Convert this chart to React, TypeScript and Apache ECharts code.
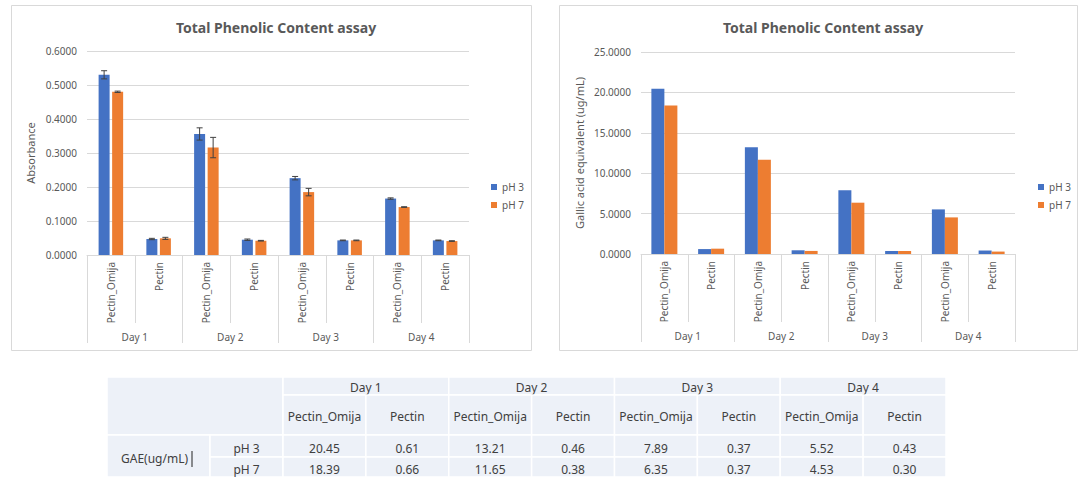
import React, { useEffect, useRef } from 'react';
import * as echarts from 'echarts';

const categories = ['Pectin_Omija', 'Pectin', 'Pectin_Omija', 'Pectin', 'Pectin_Omija', 'Pectin', 'Pectin_Omija', 'Pectin'];
const days = ['Day 1', 'Day 2', 'Day 3', 'Day 4'];
const seriesNames = ['pH 3', 'pH 7'];
const chartTitle = 'Total Phenolic Content assay';

// Absorbance (left chart)
const absPH3 = [0.530, 0.047, 0.356, 0.045, 0.226, 0.043, 0.166, 0.043];
const absPH7 = [0.480, 0.049, 0.316, 0.042, 0.185, 0.043, 0.141, 0.041];
const absErrPH3 = [0.012, 0.002, 0.018, 0.002, 0.005, 0.001, 0.002, 0.001];
const absErrPH7 = [0.002, 0.003, 0.030, 0.001, 0.011, 0.001, 0.001, 0.001];

// Gallic acid equivalent (right chart + table)
const gaePH3 = [20.45, 0.61, 13.21, 0.46, 7.89, 0.37, 5.52, 0.43];
const gaePH7 = [18.39, 0.66, 11.65, 0.38, 6.35, 0.37, 4.53, 0.30];

const tableRowHeader = 'GAE(ug/mL)';

const BLUE = '#4472C4';
const ORANGE = '#ED7D31';
const AXIS_GRAY = '#d9d9d9';
const TEXT_GRAY = '#595959';
const FONT = "'Noto Sans', 'Open Sans', sans-serif";

function errorSeries(name: string, values: number[], errs: number[], offset: number) {
  return {
    type: 'custom',
    name: name + ' err',
    xAxisIndex: 0,
    yAxisIndex: 0,
    z: 10,
    silent: true,
    encode: { x: 0, y: 1 },
    data: values.map((v, i) => [i, v, errs[i]]),
    renderItem: (params: any, api: any) => {
      const i = api.value(0);
      const v = api.value(1);
      const e = api.value(2);
      const top = api.coord([i, v + e]);
      const bot = api.coord([i, v - e]);
      const x = top[0] + offset;
      const cap = 3;
      const style = { stroke: '#404040', lineWidth: 1 };
      return {
        type: 'group',
        children: [
          { type: 'line', shape: { x1: x, y1: top[1], x2: x, y2: bot[1] }, style },
          { type: 'line', shape: { x1: x - cap, y1: top[1], x2: x + cap, y2: top[1] }, style },
          { type: 'line', shape: { x1: x - cap, y1: bot[1], x2: x + cap, y2: bot[1] }, style },
        ],
      };
    },
  };
}

function buildTable() {
  const els: any[] = [];
  const fill = '#EDF1F8';
  const stroke = '#ffffff';
  const tx = 107;
  const c1 = 210;
  const c2 = 283;
  const right = 946;
  const colW = (right - c2) / 8;
  const r0 = 377, r1 = 395, r2 = 435, r3 = 457, r4 = 477;
  const textColor = '#404040';
  const fs = 12;
  const cell = (x: number, y: number, w: number, h: number) =>
    els.push({ type: 'rect', shape: { x, y, width: w, height: h }, style: { fill, stroke, lineWidth: 1.5 }, silent: true });
  const text = (t: string, x: number, y: number) =>
    els.push({ type: 'text', x, y, style: { text: t, fill: textColor, font: `${fs}px ${FONT}`, align: 'center', verticalAlign: 'middle' }, silent: true });

  cell(tx, r0, c2 - tx, r2 - r0);
  days.forEach((d, k) => {
    cell(c2 + colW * 2 * k, r0, colW * 2, r1 - r0);
    text(d, c2 + colW * 2 * k + colW, (r0 + r1) / 2 + 1);
  });
  categories.forEach((c, i) => {
    cell(c2 + colW * i, r1, colW, r2 - r1);
    text(c, c2 + colW * i + colW / 2, (r1 + r2) / 2 + 1);
  });
  cell(tx, r2, c1 - tx, r4 - r2);
  text(tableRowHeader, (tx + c1) / 2 - 4, (r2 + r4) / 2 + 2);
  els.push({ type: 'line', shape: { x1: 192, y1: 451, x2: 192, y2: 467 }, style: { stroke: '#222', lineWidth: 1 }, silent: true });
  [gaePH3, gaePH7].forEach((row, ri) => {
    const y0 = ri === 0 ? r2 : r3;
    const y1 = ri === 0 ? r3 : r4;
    cell(c1, y0, c2 - c1, y1 - y0);
    text(seriesNames[ri], (c1 + c2) / 2, (y0 + y1) / 2 + 2);
    row.forEach((v, i) => {
      cell(c2 + colW * i, y0, colW, y1 - y0);
      text(v.toFixed(2), c2 + colW * i + colW / 2, (y0 + y1) / 2 + 2);
    });
  });
  return els;
}

function xAxesFor(gridIndex: number) {
  return [
    {
      gridIndex,
      type: 'category',
      data: categories,
      position: 'bottom',
      axisLine: { show: true, lineStyle: { color: AXIS_GRAY } },
      axisTick: { show: true, interval: 0, length: 68, lineStyle: { color: AXIS_GRAY } },
      axisLabel: { interval: 0, rotate: 90, margin: 7, fontSize: 10, color: TEXT_GRAY, fontFamily: FONT },
    },
    {
      gridIndex,
      type: 'category',
      data: days,
      position: 'bottom',
      axisLine: { show: false },
      axisTick: { show: true, interval: 0, length: 88, lineStyle: { color: AXIS_GRAY } },
      axisLabel: { interval: 0, margin: 77, fontSize: 10, color: TEXT_GRAY, fontFamily: FONT },
    },
  ];
}

export default function App() {
  const ref = useRef<HTMLDivElement>(null);
  useEffect(() => {
    if (!ref.current) return;
    const chart = echarts.init(ref.current, null, { renderer: 'svg' });
    const leftBarW = 11;
    const leftGap = 0.23;
    const leftOffset = (leftBarW * (1 + leftGap)) / 2;
    const option: any = {
      animation: false,
      backgroundColor: '#ffffff',
      textStyle: { fontFamily: FONT },
      title: [
        { text: chartTitle, left: 271, top: 15, textAlign: 'center', textStyle: { fontSize: 14, fontWeight: 'bold', color: TEXT_GRAY, fontFamily: FONT } },
        { text: chartTitle, left: 818, top: 15, textAlign: 'center', textStyle: { fontSize: 14, fontWeight: 'bold', color: TEXT_GRAY, fontFamily: FONT } },
      ],
      legend: [
        {
          data: seriesNames, orient: 'vertical', left: 486, top: 177, itemWidth: 6, itemHeight: 6, itemGap: 8, icon: 'rect',
          textStyle: { fontSize: 10, color: TEXT_GRAY, fontFamily: FONT }, selectedMode: false,
        },
        {
          data: seriesNames, orient: 'vertical', left: 1033, top: 177, itemWidth: 6, itemHeight: 6, itemGap: 8, icon: 'rect',
          textStyle: { fontSize: 10, color: TEXT_GRAY, fontFamily: FONT }, selectedMode: false,
        },
      ],
      grid: [
        { left: 87, top: 51, width: 382, height: 204, containLabel: false },
        { left: 641, top: 52, width: 374, height: 202, containLabel: false },
      ],
      xAxis: [...xAxesFor(0), ...xAxesFor(1)],
      yAxis: [
        {
          gridIndex: 0, type: 'value', min: 0, max: 0.6, interval: 0.1,
          axisLine: { show: false }, axisTick: { show: false },
          axisLabel: { formatter: (v: number) => v.toFixed(4), fontSize: 10, color: TEXT_GRAY, margin: 10, fontFamily: FONT },
          splitLine: { lineStyle: { color: AXIS_GRAY } },
          name: 'Absorbance', nameLocation: 'middle', nameGap: 51, nameRotate: 90,
          nameTextStyle: { fontSize: 11, color: TEXT_GRAY, fontFamily: FONT },
        },
        {
          gridIndex: 1, type: 'value', min: 0, max: 25, interval: 5,
          axisLine: { show: false }, axisTick: { show: false },
          axisLabel: { formatter: (v: number) => v.toFixed(4), fontSize: 10, color: TEXT_GRAY, margin: 10, fontFamily: FONT },
          splitLine: { lineStyle: { color: AXIS_GRAY } },
          name: 'Gallic acid equivalent (ug/mL)', nameLocation: 'middle', nameGap: 56, nameRotate: 90,
          nameTextStyle: { fontSize: 11, color: TEXT_GRAY, fontFamily: FONT },
        },
      ],
      series: [
        { type: 'bar', name: seriesNames[0], xAxisIndex: 0, yAxisIndex: 0, data: absPH3, barWidth: leftBarW, barGap: '23%', itemStyle: { color: BLUE } },
        { type: 'bar', name: seriesNames[1], xAxisIndex: 0, yAxisIndex: 0, data: absPH7, barWidth: leftBarW, barGap: '23%', itemStyle: { color: ORANGE } },
        errorSeries(seriesNames[0], absPH3, absErrPH3, -leftOffset),
        errorSeries(seriesNames[1], absPH7, absErrPH7, leftOffset),
        { type: 'bar', name: seriesNames[0], xAxisIndex: 2, yAxisIndex: 1, data: gaePH3, barWidth: 13, barGap: '0%', itemStyle: { color: BLUE } },
        { type: 'bar', name: seriesNames[1], xAxisIndex: 2, yAxisIndex: 1, data: gaePH7, barWidth: 13, barGap: '0%', itemStyle: { color: ORANGE } },
      ],
      graphic: [
        { type: 'rect', shape: { x: 11.5, y: 5.5, width: 520, height: 345 }, style: { fill: 'none', stroke: AXIS_GRAY, lineWidth: 1 }, silent: true, z: -1 },
        { type: 'rect', shape: { x: 559.5, y: 5.5, width: 518, height: 345 }, style: { fill: 'none', stroke: AXIS_GRAY, lineWidth: 1 }, silent: true, z: -1 },
        ...buildTable(),
      ],
    };
    chart.setOption(option);
    return () => chart.dispose();
  }, []);
  return <div ref={ref} style={{ position: 'absolute', left: 0, top: 0, width: 1085, height: 487 }} />;
}
